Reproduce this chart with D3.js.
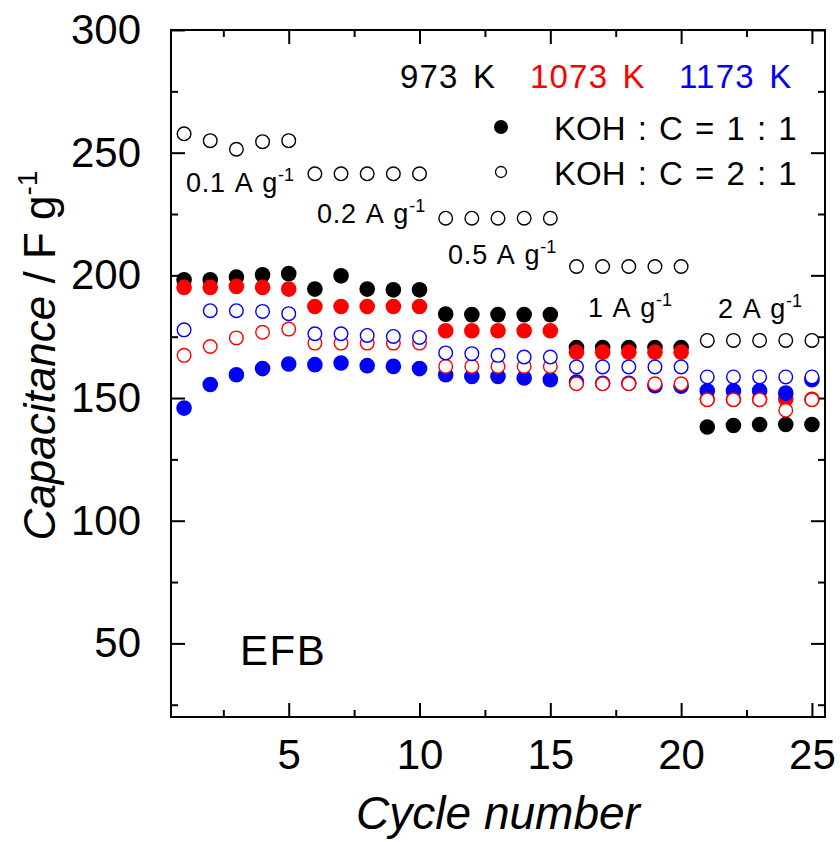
<!DOCTYPE html>
<html>
<head>
<meta charset="utf-8">
<script src="https://cdn.jsdelivr.net/npm/d3@7"></script>
<style>
  html, body { margin: 0; padding: 0; background: #fff; }
  svg { display: block; font-family: "Liberation Sans", Arial, Helvetica, sans-serif; }
</style>
</head>
<body>
<svg id="chart" width="840" height="842"></svg>
<script>
// Rate capability of EFB-derived activated carbons
const cycles = [1,2,3,4,5,6,7,8,9,10,11,12,13,14,15,16,17,18,19,20,21,22,23,24,25];

// KOH : C = 1 : 1 (filled markers)
const k973_ratio1 = [198.2,198.2,199.3,200.2,200.7, 194.4,199.8,194.4,194.1,194.1, 184.2,184.0,184.0,184.0,184.0, 170.6,170.6,170.6,170.6,170.6, 138.2,138.8,139.2,139.2,139.2];
const k1073_ratio1 = [195.1,195.1,195.5,195.1,194.4, 187.3,187.3,187.3,187.3,187.3, 177.4,177.4,177.4,177.4,177.4, 168.7,168.7,168.7,168.7,168.7, 149.5,149.5,149.5,149.6,149.5];
const k1173_ratio1 = [145.9,155.5,159.5,162.0,163.9, 163.6,164.3,163.2,162.9,162.0, 159.5,158.8,158.8,158.2,157.5, 156.5,156.0,156.0,155.0,154.8, 153.0,153.0,153.0,152.0,157.5];

// KOH : C = 2 : 1 (open markers)
const k973_ratio2 = [257.7,254.9,251.4,254.5,254.9, 241.4,241.4,241.4,241.4,241.4, 223.3,223.3,223.3,223.3,223.3, 203.6,203.6,203.6,203.6,203.6, 173.5,173.5,173.5,173.5,173.5];
const k1073_ratio2 = [167.4,171.0,174.5,176.8,178.1, 172.4,172.4,172.4,172.4,172.4, 162.9,162.9,162.9,162.9,162.9, 155.8,155.8,155.8,155.8,155.8, 149.3,149.3,149.3,145.0,149.3];
const k1173_ratio2 = [177.8,185.6,185.6,185.3,184.4, 176.2,176.2,175.5,175.1,174.7, 168.4,168.1,167.4,166.7,166.7, 162.7,162.7,162.7,162.7,162.7, 158.6,158.6,158.6,158.6,158.6];

const temperatures = ["973 K", "1073 K", "1173 K"];
const tempColors = ["#000000", "#ff0000", "#0000ff"];
const ratioLabels = ["KOH : C = 1 : 1", "KOH : C = 2 : 1"];

const currentLabels = ["0.1", "0.2", "0.5", "1", "2"];
// label anchor in data units: [cycle, capacitance]
const currentLabelX = [1.07, 6.08, 11.09, 16.44, 21.41];
const currentLabelY = [234.0, 221.3, 204.6, 183.0, 182.6];

const xMajorTicks = [5, 10, 15, 20, 25];
const xMinorTicks = [2.5, 7.5, 12.5, 17.5, 22.5];
const yMajorTicks = [50, 100, 150, 200, 250, 300];
const yMinorTicks = [25, 75, 125, 175, 225, 275];

const svg = d3.select("#chart");
const L = 171, R = 825, T = 30, B = 717;

const x = d3.scaleLinear().domain([0.5, 25.5]).range([L, R]);
const y = d3.scaleLinear().domain([20, 300]).range([B, T]);

const axisColor = "#000";
const major = 14, minor = 7;

// axes with inward ticks (mirrored on top and right)
function styleAxis(g) {
  g.select(".domain").remove();
  g.selectAll("line").attr("stroke", axisColor).attr("stroke-width", 2);
}

svg.append("g").attr("transform", `translate(0,${B})`)
  .call(d3.axisBottom(x).tickValues(xMajorTicks).tickSize(-major).tickPadding(22).tickFormat(d3.format("d")))
  .call(styleAxis)
  .call(g => g.selectAll("text").attr("font-size", 42).attr("fill", "#000").attr("dy", "0.71em"));
svg.append("g").attr("transform", `translate(0,${B})`)
  .call(d3.axisBottom(x).tickValues(xMinorTicks).tickSize(-minor).tickFormat(""))
  .call(styleAxis);
svg.append("g").attr("transform", `translate(0,${T})`)
  .call(d3.axisTop(x).tickValues(xMajorTicks).tickSize(-major).tickFormat(""))
  .call(styleAxis);
svg.append("g").attr("transform", `translate(0,${T})`)
  .call(d3.axisTop(x).tickValues(xMinorTicks).tickSize(-minor).tickFormat(""))
  .call(styleAxis);

svg.append("g").attr("transform", `translate(${L},0)`)
  .call(d3.axisLeft(y).tickValues(yMajorTicks).tickSize(-major).tickPadding(30).tickFormat(d3.format("d")))
  .call(styleAxis)
  .call(g => g.selectAll("text").attr("font-size", 42).attr("fill", "#000"));
svg.append("g").attr("transform", `translate(${L},0)`)
  .call(d3.axisLeft(y).tickValues(yMinorTicks).tickSize(-minor).tickFormat(""))
  .call(styleAxis);
svg.append("g").attr("transform", `translate(${R},0)`)
  .call(d3.axisRight(y).tickValues(yMajorTicks).tickSize(-major).tickFormat(""))
  .call(styleAxis);
svg.append("g").attr("transform", `translate(${R},0)`)
  .call(d3.axisRight(y).tickValues(yMinorTicks).tickSize(-minor).tickFormat(""))
  .call(styleAxis);

// frame
svg.append("rect").attr("x", L).attr("y", T).attr("width", R - L).attr("height", B - T)
  .attr("fill", "none").attr("stroke", axisColor).attr("stroke-width", 2);

// axis titles
const yTitle = svg.append("text")
  .attr("transform", `translate(55,${(T + B) / 2 - 18}) rotate(-90)`)
  .attr("text-anchor", "middle").attr("font-size", 44).attr("font-style", "italic");
yTitle.append("tspan").text("Capacitance");
yTitle.append("tspan").attr("font-style", "normal").text(" / F g");
yTitle.append("tspan").attr("font-style", "normal").attr("font-size", 28).attr("dy", -18).text("-1");

svg.append("text").attr("x", (L + R) / 2).attr("y", 829)
  .attr("text-anchor", "middle").attr("font-size", 46).attr("font-style", "italic")
  .text("Cycle number");

// data markers: filled first, then white-filled open circles on top
const filledSeries = [k973_ratio1, k1073_ratio1, k1173_ratio1];
const openSeries = [k973_ratio2, k1073_ratio2, k1173_ratio2];

filledSeries.forEach((vals, i) => {
  svg.append("g").selectAll("circle").data(cycles.map((c, j) => [c, vals[j]]))
    .join("circle")
    .attr("cx", d => x(d[0])).attr("cy", d => y(d[1])).attr("r", 7.8)
    .attr("fill", tempColors[i]);
});
openSeries.forEach((vals, i) => {
  svg.append("g").selectAll("circle").data(cycles.map((c, j) => [c, vals[j]]))
    .join("circle")
    .attr("cx", d => x(d[0])).attr("cy", d => y(d[1])).attr("r", 6.8)
    .attr("fill", "#fff").attr("stroke", tempColors[i]).attr("stroke-width", 1.4);
});

// current density annotations
currentLabels.forEach((t, i) => {
  const tx = svg.append("text").attr("x", x(currentLabelX[i])).attr("y", y(currentLabelY[i]))
    .attr("font-size", 27).attr("fill", "#000").attr("letter-spacing", 0.8).attr("word-spacing", 2);
  tx.append("tspan").text(`${t} A g`);
  tx.append("tspan").attr("font-size", 18).attr("dy", -11).attr("letter-spacing", 0).text("-1");
});

// legend: temperatures
const tempX = [400, 530, 679];
temperatures.forEach((t, i) => {
  svg.append("text").attr("x", tempX[i]).attr("y", 88)
    .attr("font-size", 33).attr("fill", tempColors[i])
    .attr("letter-spacing", 1.2).attr("word-spacing", 4).text(t);
});
// legend: ratios
svg.append("circle").attr("cx", 501).attr("cy", 127).attr("r", 7).attr("fill", "#000");
svg.append("circle").attr("cx", 501).attr("cy", 172).attr("r", 5.5)
  .attr("fill", "#fff").attr("stroke", "#000").attr("stroke-width", 1.3);
ratioLabels.forEach((t, i) => {
  svg.append("text").attr("x", 554).attr("y", 140 + i * 45)
    .attr("font-size", 33).attr("fill", "#000").attr("word-spacing", 3).text(t);
});

// sample label
svg.append("text").attr("x", 240).attr("y", 665).attr("font-size", 42)
  .attr("letter-spacing", 1.5).attr("fill", "#000").text("EFB");
</script>
</body>
</html>
